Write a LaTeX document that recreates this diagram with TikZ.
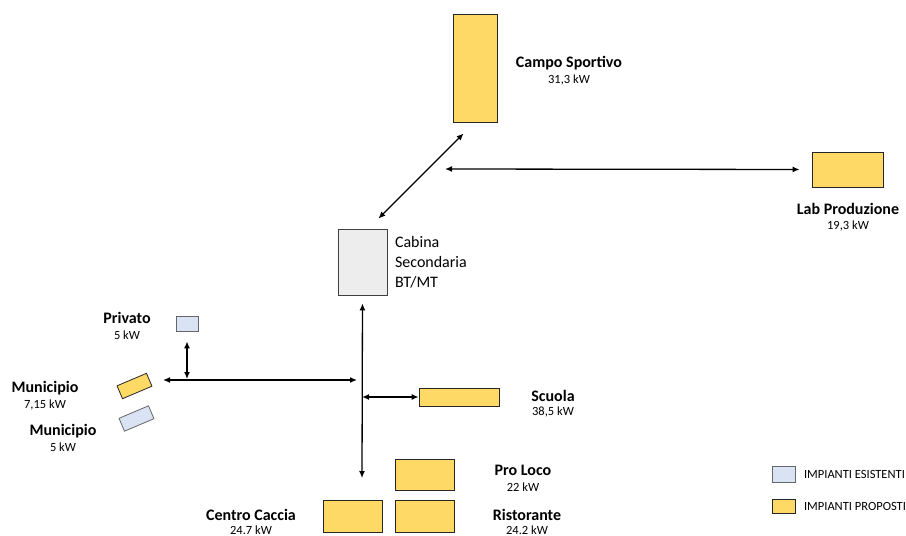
\documentclass[tikz,border=0pt]{standalone}
\usepackage{fontspec}
\setmainfont{Carlito}
\usetikzlibrary{arrows.meta,positioning}

\definecolor{giallo}{HTML}{FFD966}
\definecolor{azzurro}{HTML}{DAE3F3}
\definecolor{grigio}{HTML}{EDEDED}

\begin{document}
\begin{tikzpicture}[x=1pt, y=-1pt, line width=1.3pt, >={Latex[length=7pt,width=6pt]},
    every node/.style={inner sep=0pt},
    proposto/.style={draw=black!85, line width=0.8pt, fill=giallo},
    esistente/.style={draw=black!60, line width=0.8pt, fill=azzurro},
    nome/.style={font=\fontsize{16}{18}\selectfont\bfseries},
    potenza/.style={font=\fontsize{12.5}{14}\selectfont}]
    \useasboundingbox (0,0) rectangle (906,536);

    % impianti
    \node[proposto, minimum width=44pt, minimum height=108pt] (campo) at (475,68) {};
    \node[proposto, minimum width=71pt, minimum height=35pt] (lab) at (847.5,169.5) {};
    \node[draw=black!75, line width=0.8pt, fill=grigio,
      minimum width=49pt, minimum height=66pt] (cabina) at (362.5,262) {};
    \node[right=4pt of cabina, align=left, inner sep=3pt,
      font=\fontsize{16}{20}\selectfont] (cabinaT) {Cabina\\Secondaria\\BT/MT};
    \node[esistente, minimum width=22pt, minimum height=15pt] (privato) at (187,323.5) {};
    \node[proposto, minimum width=32pt, minimum height=14pt, rotate=23] (munP) at (134.5,386) {};
    \node[esistente, minimum width=32pt, minimum height=14pt, rotate=23] (munE) at (136.5,418.5) {};
    \node[proposto, minimum width=80pt, minimum height=18pt] (scuola) at (459,397) {};
    \node[proposto, minimum width=59pt, minimum height=31pt] (proloco) at (424.5,474.5) {};
    \node[proposto, minimum width=59pt, minimum height=32pt] (ristorante) at (424.5,516) {};
    \node[proposto, minimum width=59pt, minimum height=32pt] (caccia) at (352.5,516) {};

    % etichette
    \node[nome] (campoN) at (569,63) {Campo Sportivo};
    \node[potenza] (campoP) at (569,80) {31,3 kW};
    \node[nome] (labN) at (848,209) {Lab Produzione};
    \node[potenza] (labP) at (848,226) {19,3 kW};
    \node[nome] (privatoN) at (127,318) {Privato};
    \node[potenza] (privatoP) at (127,335) {5 kW};
    \node[nome] (munPN) at (45,388) {Municipio};
    \node[potenza] (munPP) at (45,405) {7,15 kW};
    \node[nome] (munEN) at (63,431) {Municipio};
    \node[potenza] (munEP) at (63,447) {5 kW};
    \node[nome] (scuolaN) at (553,396) {Scuola};
    \node[potenza] (scuolaP) at (553,412) {38,5 kW};
    \node[nome] (prolocoN) at (523,470) {Pro Loco};
    \node[potenza] (prolocoP) at (523,487) {22 kW};
    \node[nome] (ristoranteN) at (527,515) {Ristorante};
    \node[potenza] (ristoranteP) at (527,530) {24.2 kW};
    \node[nome] (cacciaN) at (251,515) {Centro Caccia};
    \node[potenza] (cacciaP) at (251,530) {24.7 kW};

    % collegamenti
    \coordinate (bus) at (362,478);
    \coordinate (ovest) at (163,380);
    \coordinate (nodoN) at (445,169);
    \draw[<->, shorten <=8pt] (cabina.south) -- (bus);
    \draw[<->] (ovest) -- ([xshift=-5pt]bus |- ovest);
    \draw[<->, shorten <=10pt, shorten >=1pt] (privato.south) -- (privato.south |- ovest);
    \draw[<->] (bus |- scuola.west) -- (scuola.west);
    \draw[<->, shorten >=12pt] (nodoN) -- (lab.west);
    \draw[<->] ([xshift=-9pt,yshift=10pt]cabina.north east)
      -- ([xshift=11pt,yshift=-11pt]campo.south west);

    % legenda
    \node[esistente, minimum width=23pt, minimum height=16pt] (legE) at (783.5,474) {};
    \node[proposto, minimum width=23pt, minimum height=14pt] (legP) at (783.5,506) {};
    \node[right=8pt of legE, font=\fontsize{12.5}{14}\selectfont] (legET) {IMPIANTI ESISTENTI};
    \node[right=8pt of legP, font=\fontsize{12.5}{14}\selectfont] (legPT) {IMPIANTI PROPOSTI};
  \end{tikzpicture}
\end{document}
